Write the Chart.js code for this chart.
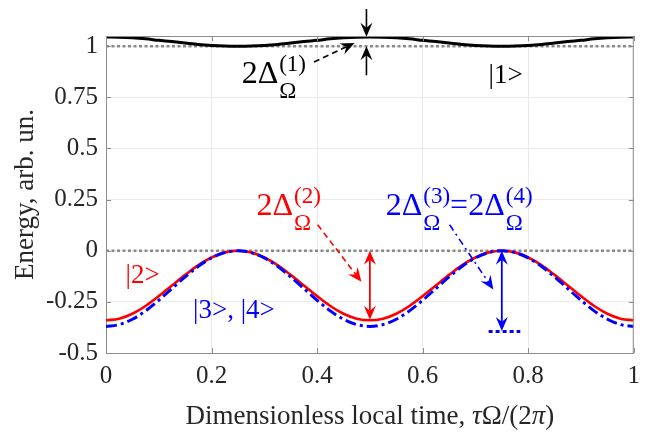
<!DOCTYPE html>
<html>
<head>
<meta charset="utf-8">
<script src="https://cdn.jsdelivr.net/npm/chart.js@4.4.1/dist/chart.umd.min.js"></script>
<style>
html, body { margin: 0; padding: 0; background: #fff; }
#wrap { width: 648px; height: 435px; }
</style>
</head>
<body>
<div id="wrap"><canvas id="chart"></canvas></div>
<script>
// dimensionless local time (x values)
const tau = [0, 0.025, 0.05, 0.075, 0.1, 0.125, 0.15, 0.175, 0.2, 0.225,
    0.25, 0.275, 0.3, 0.325, 0.35, 0.375, 0.4, 0.425, 0.45, 0.475,
    0.5, 0.525, 0.55, 0.575, 0.6, 0.625, 0.65, 0.675, 0.7, 0.725,
    0.75, 0.775, 0.8, 0.825, 0.85, 0.875, 0.9, 0.925, 0.95, 0.975, 1];

// energy of level |1>
const level1 = [1.045, 1.044, 1.041, 1.036, 1.029, 1.023, 1.016, 1.009, 1.004, 1.001,
    1.0, 1.001, 1.004, 1.009, 1.016, 1.023, 1.029, 1.036, 1.041, 1.044,
    1.045, 1.044, 1.041, 1.036, 1.029, 1.023, 1.016, 1.009, 1.004, 1.001,
    1.0, 1.001, 1.004, 1.009, 1.016, 1.023, 1.029, 1.036, 1.041, 1.044, 1.045];

// energy of level |2>
const level2 = [-0.34, -0.332, -0.308, -0.27, -0.222, -0.17, -0.118, -0.07, -0.033, -0.008,
    0, -0.008, -0.033, -0.07, -0.118, -0.17, -0.222, -0.27, -0.308, -0.332,
    -0.34, -0.332, -0.308, -0.27, -0.222, -0.17, -0.118, -0.07, -0.033, -0.008,
    0, -0.008, -0.033, -0.07, -0.118, -0.17, -0.222, -0.27, -0.308, -0.332, -0.34];

// energy of levels |3>, |4>
const level34 = [-0.37, -0.361, -0.335, -0.294, -0.242, -0.185, -0.128, -0.076, -0.035, -0.009,
    0, -0.009, -0.035, -0.076, -0.128, -0.185, -0.242, -0.294, -0.335, -0.361,
    -0.37, -0.361, -0.335, -0.294, -0.242, -0.185, -0.128, -0.076, -0.035, -0.009,
    0, -0.009, -0.035, -0.076, -0.128, -0.185, -0.242, -0.294, -0.335, -0.361, -0.37];

// reference levels (dotted gray)
const refX = [0, 1];
const refLevels = [1, 0];

// short blue marker at bottom of the 2Δ(3) arrow
const markX = [0.725, 0.785];
const markY = -0.395;

const xTicks = [0, 0.2, 0.4, 0.6, 0.8, 1];
const yTicks = [-0.5, -0.25, 0, 0.25, 0.5, 0.75, 1];

// arrows in data units: [x0, y0, x1, y1]
const blackArrows = [[0.4935, 1.182, 0.4935, 1.046], [0.4935, 0.858, 0.4935, 1.0]];
const blackPointer = [0.394, 0.923, 0.471, 1.016];
const redPointer = [0.401, 0.127, 0.484, -0.152];
const redSpan = [0.5, 0, 0.5, -0.338];
const bluePointer = [0.651, 0.127, 0.734, -0.19];
const blueSpan = [0.75, 0, 0.75, -0.392];

const SERIF = '"Liberation Serif", "Times New Roman", serif';

function pts(xs, ys) {
    return xs.map((x, i) => ({ x: x, y: ys[i] }));
}

function arrowHead(ctx, x0, y0, x1, y1, len, half) {
    const a = Math.atan2(y1 - y0, x1 - x0);
    const c = Math.cos(a), s = Math.sin(a);
    ctx.beginPath();
    ctx.moveTo(x1, y1);
    ctx.lineTo(x1 - len * c + half * s, y1 - len * s - half * c);
    ctx.lineTo(x1 - len * 0.65 * c, y1 - len * 0.65 * s);
    ctx.lineTo(x1 - len * c - half * s, y1 - len * s + half * c);
    ctx.closePath();
    ctx.fill();
}

function drawArrow(chart, a, color, dash, both, width) {
    const ctx = chart.ctx;
    const xs = chart.scales.x, ys = chart.scales.y;
    const x0 = xs.getPixelForValue(a[0]), y0 = ys.getPixelForValue(a[1]);
    const x1 = xs.getPixelForValue(a[2]), y1 = ys.getPixelForValue(a[3]);
    const len = 14, half = 6;
    const ang = Math.atan2(y1 - y0, x1 - x0);
    ctx.save();
    ctx.strokeStyle = color;
    ctx.fillStyle = color;
    ctx.lineWidth = width;
    ctx.setLineDash(dash);
    ctx.beginPath();
    const sx = both ? x0 + Math.cos(ang) * len * 0.6 : x0;
    const sy = both ? y0 + Math.sin(ang) * len * 0.6 : y0;
    ctx.moveTo(sx, sy);
    ctx.lineTo(x1 - Math.cos(ang) * len * 0.6, y1 - Math.sin(ang) * len * 0.6);
    ctx.stroke();
    ctx.setLineDash([]);
    arrowHead(ctx, x0, y0, x1, y1, len, half);
    if (both) arrowHead(ctx, x1, y1, x0, y0, len, half);
    ctx.restore();
}

function drawDelta(ctx, x, y, sup) {
    ctx.font = '32px ' + SERIF;
    ctx.fillText('2\u0394', x, y);
    const w = ctx.measureText('2\u0394').width + 1;
    ctx.font = '23px ' + SERIF;
    ctx.fillText(sup, x + w, y - 12);
    ctx.fillText('\u03A9', x + w, y + 15);
    return x + w + Math.max(ctx.measureText(sup).width, ctx.measureText('\u03A9').width);
}

function drawRuns(ctx, runs, cx, y) {
    let total = 0;
    runs.forEach(r => { ctx.font = r[1]; total += ctx.measureText(r[0]).width; });
    let x = cx - total / 2;
    runs.forEach(r => {
        ctx.font = r[1];
        ctx.fillText(r[0], x, y);
        x += ctx.measureText(r[0]).width;
    });
}

const decorations = {
    id: 'decorations',
    afterDraw(chart) {
        const ctx = chart.ctx;
        const area = chart.chartArea;
        const xs = chart.scales.x, ys = chart.scales.y;

        // box and inward ticks
        ctx.save();
        ctx.strokeStyle = '#8c8c8c';
        ctx.lineWidth = 1;
        ctx.beginPath();
        ctx.moveTo(area.left, area.top + 0.5);
        ctx.lineTo(area.right - 0.5, area.top + 0.5);
        ctx.lineTo(area.right - 0.5, area.bottom);
        xTicks.forEach(v => {
            const px = Math.round(xs.getPixelForValue(v)) + 0.5;
            ctx.moveTo(px, area.bottom);
            ctx.lineTo(px, area.bottom - 5);
            ctx.moveTo(px, area.top);
            ctx.lineTo(px, area.top + 5);
        });
        yTicks.forEach(v => {
            const py = Math.round(ys.getPixelForValue(v)) + 0.5;
            ctx.moveTo(area.left, py);
            ctx.lineTo(area.left + 5, py);
            ctx.moveTo(area.right, py);
            ctx.lineTo(area.right - 5, py);
        });
        ctx.stroke();
        ctx.restore();

        // arrows
        drawArrow(chart, blackArrows[0], '#000', [], false, 1.6);
        drawArrow(chart, blackArrows[1], '#000', [], false, 1.6);
        drawArrow(chart, blackPointer, '#000', [6, 4], false, 1.6);
        drawArrow(chart, redPointer, '#ff0000', [6, 4], false, 1.6);
        drawArrow(chart, redSpan, '#ff0000', [], true, 1.8);
        drawArrow(chart, bluePointer, '#0000ff', [7, 4, 2, 4], false, 1.6);
        drawArrow(chart, blueSpan, '#0000ff', [], true, 1.8);

        // labels
        ctx.save();
        ctx.textBaseline = 'alphabetic';
        ctx.textAlign = 'left';
        ctx.fillStyle = '#000';
        drawDelta(ctx, xs.getPixelForValue(0.257), ys.getPixelForValue(0.82), '(1)');
        ctx.font = '27px ' + SERIF;
        ctx.fillText('|1>', xs.getPixelForValue(0.725), ys.getPixelForValue(0.82));

        ctx.fillStyle = '#ff0000';
        drawDelta(ctx, xs.getPixelForValue(0.285), ys.getPixelForValue(0.176), '(2)');
        ctx.font = '27px ' + SERIF;
        ctx.fillText('|2>', xs.getPixelForValue(0.037), ys.getPixelForValue(-0.156));

        ctx.fillStyle = '#0000ff';
        let bx = drawDelta(ctx, xs.getPixelForValue(0.53), ys.getPixelForValue(0.176), '(3)');
        ctx.font = '32px ' + SERIF;
        ctx.fillText('=', bx, ys.getPixelForValue(0.176));
        bx += ctx.measureText('=').width;
        drawDelta(ctx, bx, ys.getPixelForValue(0.176), '(4)');
        ctx.font = '27px ' + SERIF;
        ctx.fillText('|3>, |4>', xs.getPixelForValue(0.165), ys.getPixelForValue(-0.328));

        // axis titles
        ctx.fillStyle = '#262626';
        const nf = '27px ' + SERIF, itf = 'italic 27px ' + SERIF;
        drawRuns(ctx, [['Dimensionless local time, ', nf], ['\u03C4', itf], ['\u03A9/(2', nf],
            ['\u03C0', itf], [')', nf]], (area.left + area.right) / 2, 424);
        ctx.translate(33, (area.top + area.bottom) / 2);
        ctx.rotate(-Math.PI / 2);
        drawRuns(ctx, [['Energy, arb. un.', nf]], 0, 0);
        ctx.restore();
    }
};

const gray = '#8a8a8a';

new Chart(document.getElementById('chart'), {
    type: 'line',
    data: {
        datasets: [
            {
                data: pts(refX, [refLevels[0], refLevels[0]]),
                borderColor: gray, borderWidth: 2.5, borderDash: [3, 2.5], order: 5
            },
            {
                data: pts(refX, [refLevels[1], refLevels[1]]),
                borderColor: gray, borderWidth: 2.5, borderDash: [3, 2.5], order: 5
            },
            {
                data: pts(tau, level1),
                borderColor: '#000000', borderWidth: 3, order: 4
            },
            {
                data: pts(tau, level2),
                borderColor: '#ff0000', borderWidth: 2.6, order: 3
            },
            {
                data: pts(tau, level34),
                borderColor: '#0000ff', borderWidth: 3, borderDash: [11, 4, 3, 4], order: 2
            },
            {
                data: pts(markX, [markY, markY]),
                borderColor: '#0000ff', borderWidth: 3, borderDash: [4, 3], order: 1
            }
        ]
    },
    options: {
        responsive: true,
        maintainAspectRatio: false,
        animation: false,
        events: [],
        layout: { padding: { top: 36, right: 1, left: 0, bottom: 0 } },
        elements: {
            point: { radius: 0 },
            line: { tension: 0, cubicInterpolationMode: 'monotone', fill: false, borderCapStyle: 'butt' }
        },
        plugins: {
            legend: { display: false },
            tooltip: { enabled: false }
        },
        scales: {
            x: {
                type: 'linear',
                min: 0,
                max: 1,
                afterFit: s => { s.height = 82; },
                afterBuildTicks: s => { s.ticks = xTicks.map(v => ({ value: v })); },
                grid: { color: '#ebebeb', drawTicks: false },
                border: { color: '#8c8c8c' },
                ticks: {
                    padding: 8,
                    color: '#262626',
                    font: { family: SERIF, size: 25 },
                    callback: v => String(v)
                }
            },
            y: {
                type: 'linear',
                min: -0.5,
                max: 1.05,
                afterFit: s => { s.width = 106; },
                afterBuildTicks: s => { s.ticks = yTicks.map(v => ({ value: v })); },
                grid: { color: '#ebebeb', drawTicks: false },
                border: { color: '#8c8c8c' },
                ticks: {
                    padding: 8,
                    color: '#262626',
                    font: { family: SERIF, size: 25 },
                    callback: v => String(v)
                }
            }
        }
    },
    plugins: [decorations]
});
</script>
</body>
</html>
